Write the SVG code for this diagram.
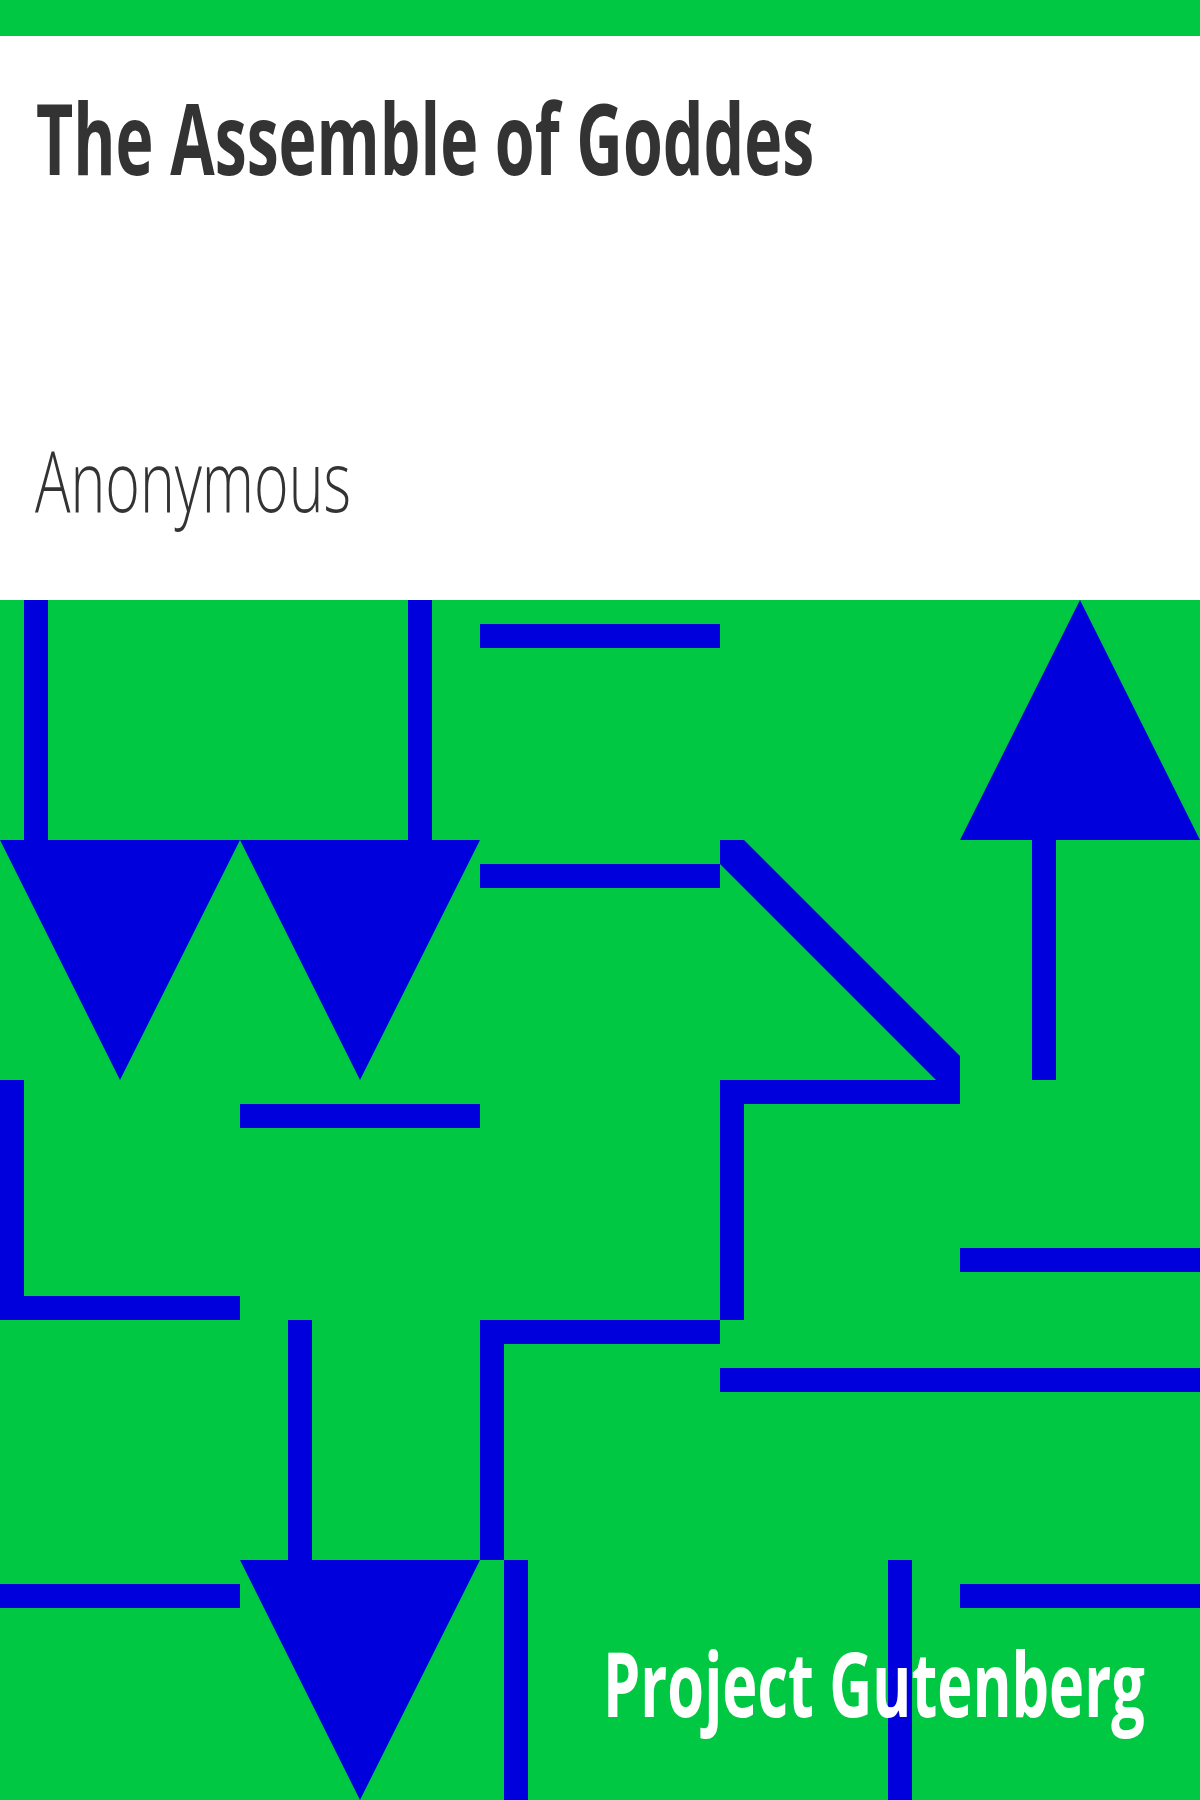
<svg xmlns="http://www.w3.org/2000/svg" width="1200" height="1800" viewBox="0 0 1200 1800">
<style>
.bg{fill:#00c843}
.b{fill:#0000dd}
.t{font-family:"Open Sans","Noto Sans","Liberation Sans",sans-serif}
</style>
<rect x="0" y="0" width="1200" height="1800" fill="#ffffff"/>
<rect class="bg" x="0" y="0" width="1200" height="36"/>
<rect class="bg" x="0" y="600" width="1200" height="1200"/>
<g id="pattern">
<g id="r0">
<rect class="b" x="24" y="600" width="24" height="240"/>
<rect class="b" x="408" y="600" width="24" height="240"/>
<rect class="b" x="480" y="624" width="240" height="24"/>
<polygon class="b" points="1080,600 1200,840 960,840"/>
</g>
<g id="r1">
<polygon class="b" points="0,840 240,840 120,1080"/>
<polygon class="b" points="240,840 480,840 360,1080"/>
<rect class="b" x="480" y="864" width="240" height="24"/>
<polygon class="b" points="720,840 744,840 960,1056 960,1080 936,1080 720,864"/>
<rect class="b" x="1032" y="840" width="24" height="240"/>
</g>
<g id="r2">
<rect class="b" x="0" y="1080" width="24" height="240"/>
<rect class="b" x="0" y="1296" width="240" height="24"/>
<rect class="b" x="240" y="1104" width="240" height="24"/>
<rect class="b" x="720" y="1080" width="240" height="24"/>
<rect class="b" x="720" y="1080" width="24" height="240"/>
<rect class="b" x="960" y="1248" width="240" height="24"/>
</g>
<g id="r3">
<rect class="b" x="288" y="1320" width="24" height="240"/>
<rect class="b" x="480" y="1320" width="240" height="24"/>
<rect class="b" x="480" y="1320" width="24" height="240"/>
<rect class="b" x="720" y="1368" width="480" height="24"/>
</g>
<g id="r4">
<rect class="b" x="0" y="1584" width="240" height="24"/>
<polygon class="b" points="240,1560 480,1560 360,1800"/>
<rect class="b" x="504" y="1560" width="24" height="240"/>
<rect class="b" x="888" y="1560" width="24" height="240"/>
<rect class="b" x="960" y="1584" width="240" height="24"/>
</g>
</g>
<g id="title">
<text class="t" transform="translate(36,175) scale(0.66,1)" x="0" y="0" font-size="98" font-weight="700" fill="#333333" textLength="1179" lengthAdjust="spacingAndGlyphs">The Assemble of Goddes</text>
</g>
<g id="author">
<text class="t" x="35" y="512" font-size="84" font-weight="300" fill="#333333" textLength="316" lengthAdjust="spacingAndGlyphs">Anonymous</text>
</g>
<g id="publisher">
<text class="t" transform="translate(603,1717) scale(0.66,1)" x="0" y="0" font-size="90" font-weight="700" fill="#ffffff" textLength="821" lengthAdjust="spacingAndGlyphs">Project Gutenberg</text>
</g>
</svg>
